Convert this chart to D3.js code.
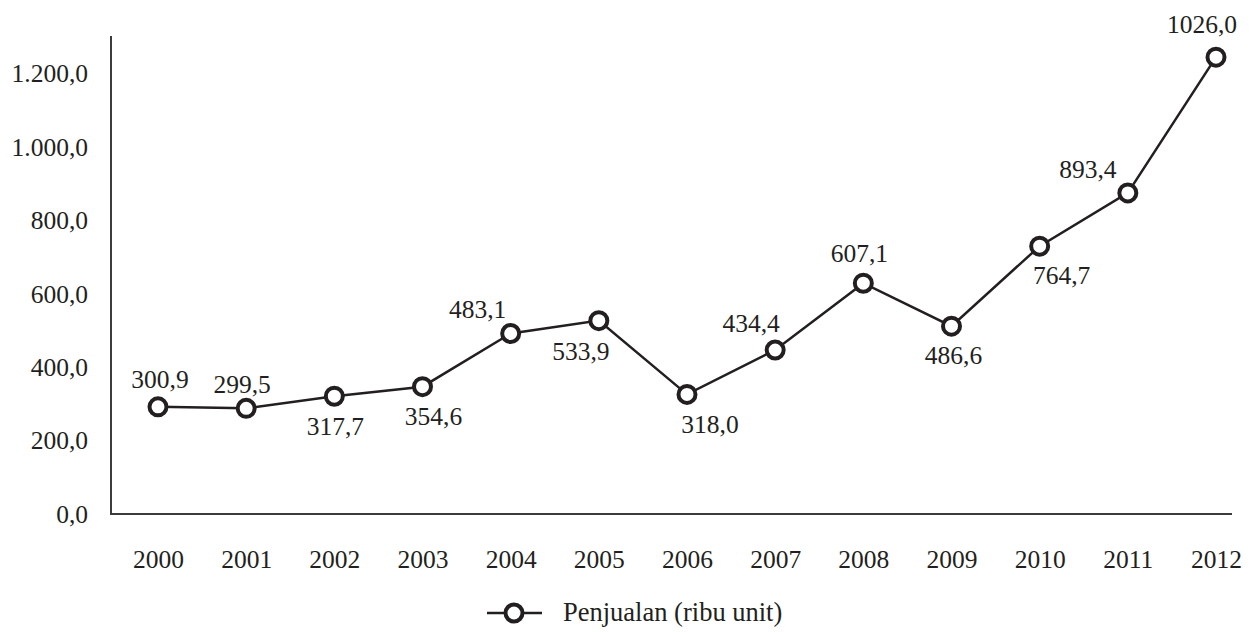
<!DOCTYPE html>
<html>
<head>
<meta charset="utf-8">
<script src="https://cdn.jsdelivr.net/npm/d3@7"></script>
<style>
  body { margin: 0; background: #fff; }
  svg text { font-family: "Liberation Serif", "Times New Roman", serif; fill: #231f20; }
</style>
</head>
<body>
<svg width="1252" height="632"></svg>
<script>
// data
const years = ['2000', '2001', '2002', '2003', '2004', '2005', '2006', '2007', '2008', '2009', '2010', '2011', '2012'];
const penjualan = [292, 288, 321, 347, 492, 527, 326, 447, 629, 512, 730, 875, 1245];
const valueLabels = ['300,9', '299,5', '317,7', '354,6', '483,1', '533,9', '318,0', '434,4', '607,1', '486,6', '764,7', '893,4', '1026,0'];
const yTicks = [0, 200, 400, 600, 800, 1000, 1200];
const seriesName = 'Penjualan (ribu unit)';

// where each value label sits relative to its point: [dx, baseline dy]
const labelPlace = [[2, -19], [-4, -15], [1, 39], [11, 38], [-33, -15], [-18, 39], [23, 39],
                     [-24, -18], [-4, -21], [2, 38], [22, 38], [-40, -15], [-14, -24]];

const svg = d3.select('svg');
const ink = '#231f20';
const serif = '"Liberation Serif", "Times New Roman", serif';
const fontSize = 25.5;

const locale = d3.formatLocale({ decimal: ',', thousands: '.', grouping: [3], currency: ['', ''] });
const fmt = locale.format(',.1f');

const xScale = d3.scalePoint()
    .domain(years)
    .range([158, 1216]);

const yScale = d3.scaleLinear()
    .domain([0, 1300])
    .range([514, 37]);

// y axis
const yAxisG = svg.append('g')
    .attr('transform', 'translate(111,0)')
    .call(d3.axisLeft(yScale).tickValues(yTicks).tickFormat(fmt).tickSize(0).tickPadding(23));
yAxisG.attr('font-family', serif).attr('font-size', fontSize);
yAxisG.select('.domain').remove();
yAxisG.selectAll('text').attr('fill', ink);

// x axis
const xAxisG = svg.append('g')
    .attr('transform', 'translate(0,514)')
    .call(d3.axisBottom(xScale).tickSize(0).tickPadding(36));
xAxisG.attr('font-family', serif).attr('font-size', fontSize);
xAxisG.select('.domain').remove();
xAxisG.selectAll('text').attr('fill', ink);

// axis lines
svg.append('line')
    .attr('x1', 111).attr('x2', 111)
    .attr('y1', 36).attr('y2', yScale(0))
    .attr('stroke', '#3c3c3c').attr('stroke-width', 2);
svg.append('line')
    .attr('x1', 110).attr('x2', 1232)
    .attr('y1', yScale(0)).attr('y2', yScale(0))
    .attr('stroke', '#3c3c3c').attr('stroke-width', 2);

const data = years.map((y, i) => ({ year: y, value: penjualan[i], label: valueLabels[i], place: labelPlace[i] }));

const lineGenerator = d3.line()
    .x(d => xScale(d.year))
    .y(d => yScale(d.value));

svg.append('path')
    .attr('d', lineGenerator(data))
    .attr('fill', 'none')
    .attr('stroke', ink)
    .attr('stroke-width', 2.5);

svg.selectAll('circle.pt')
    .data(data)
    .join('circle')
    .attr('class', 'pt')
    .attr('cx', d => xScale(d.year))
    .attr('cy', d => yScale(d.value))
    .attr('r', 8.5)
    .attr('fill', '#fff')
    .attr('stroke', ink)
    .attr('stroke-width', 4);

svg.selectAll('text.val')
    .data(data)
    .join('text')
    .attr('class', 'val')
    .attr('text-anchor', 'middle')
    .attr('font-family', serif)
    .attr('font-size', fontSize)
    .attr('x', d => xScale(d.year) + d.place[0])
    .attr('y', d => yScale(d.value) + d.place[1])
    .text(d => d.label);

// legend
const legend = svg.append('g').attr('transform', 'translate(514,613)');
legend.append('line')
    .attr('x1', -27).attr('x2', 28)
    .attr('stroke', ink).attr('stroke-width', 2.5);
legend.append('circle')
    .attr('r', 8.5)
    .attr('fill', '#fff')
    .attr('stroke', ink)
    .attr('stroke-width', 4);
legend.append('text')
    .attr('x', 49)
    .attr('y', 8)
    .attr('font-family', serif)
    .attr('font-size', 26.5)
    .text(seriesName);
</script>
</body>
</html>
